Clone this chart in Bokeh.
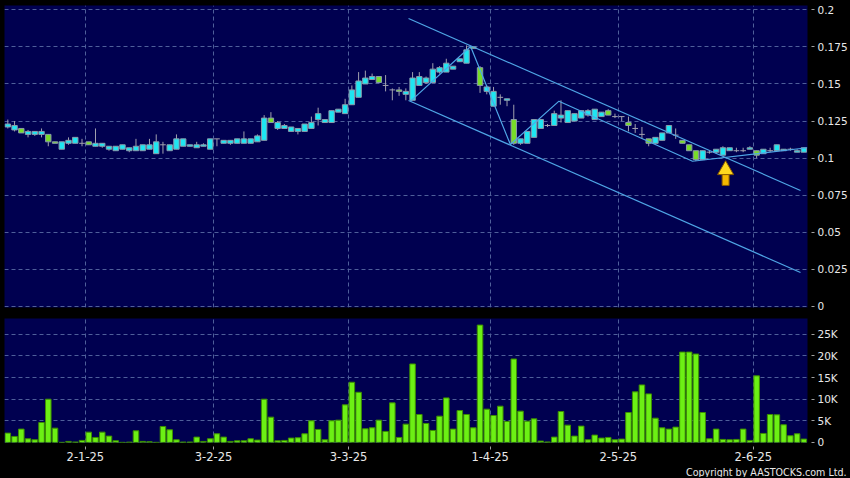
from bokeh.plotting import figure
from bokeh.layouts import column
from bokeh.models import Range1d, FixedTicker, NumeralTickFormatter, Title, GlobalInlineStyleSheet
from bokeh.embed import file_html
from bokeh.resources import INLINE

# ---------------- data ----------------
opens = [0.121, 0.119, 0.120, 0.116, 0.116, 0.116, 0.116, 0.111, 0.106, 0.110,
         0.110, 0.110, 0.111, 0.108, 0.108, 0.106, 0.105, 0.106, 0.105, 0.105,
         0.105, 0.106, 0.103, 0.109, 0.105, 0.106, 0.108, 0.108, 0.107, 0.108,
         0.106, 0.113, 0.110, 0.110, 0.110, 0.110, 0.110, 0.111, 0.112, 0.127,
         0.120, 0.120, 0.118, 0.118, 0.118, 0.120, 0.126, 0.124, 0.124, 0.131,
         0.130, 0.136, 0.141, 0.150, 0.153, 0.155, 0.149, 0.146, 0.146, 0.143,
         0.139, 0.149, 0.151, 0.151, 0.158, 0.158, 0.160, 0.165, 0.164, 0.175,
         0.161, 0.145, 0.135, 0.141, 0.139, 0.126, 0.110, 0.110, 0.114, 0.120,
         0.122, 0.122, 0.127, 0.124, 0.125, 0.127, 0.129, 0.126, 0.128, 0.132,
         0.128, 0.128, 0.124, 0.120, 0.116, 0.113, 0.110, 0.112, 0.117, 0.1155,
         0.112, 0.109, 0.105, 0.099, 0.104, 0.104, 0.102, 0.105, 0.105, 0.105,
         0.106, 0.105, 0.103, 0.105, 0.105, 0.105, 0.106, 0.104, 0.104]
highs = [0.126, 0.125, 0.120, 0.119, 0.118, 0.120, 0.116, 0.111, 0.111, 0.114,
         0.114, 0.113, 0.111, 0.120, 0.110, 0.108, 0.108, 0.109, 0.107, 0.113,
         0.109, 0.113, 0.116, 0.111, 0.109, 0.116, 0.113, 0.109, 0.111, 0.110,
         0.113, 0.113, 0.112, 0.112, 0.113, 0.118, 0.113, 0.116, 0.129, 0.131,
         0.125, 0.123, 0.121, 0.120, 0.123, 0.128, 0.134, 0.126, 0.132, 0.133,
         0.140, 0.149, 0.158, 0.159, 0.157, 0.155, 0.156, 0.147, 0.148, 0.147,
         0.158, 0.158, 0.155, 0.164, 0.162, 0.167, 0.162, 0.167, 0.176, 0.175,
         0.162, 0.149, 0.148, 0.143, 0.140, 0.136, 0.113, 0.118, 0.126, 0.126,
         0.123, 0.132, 0.139, 0.132, 0.130, 0.132, 0.133, 0.133, 0.131, 0.133,
         0.130, 0.128, 0.128, 0.123, 0.121, 0.113, 0.114, 0.117, 0.122, 0.120,
         0.112, 0.109, 0.105, 0.105, 0.105, 0.106, 0.108, 0.107, 0.107, 0.107,
         0.108, 0.105, 0.106, 0.107, 0.109, 0.106, 0.107, 0.106, 0.107]
lows = [0.120, 0.118, 0.117, 0.114, 0.115, 0.114, 0.108, 0.110, 0.106, 0.109,
        0.110, 0.108, 0.109, 0.108, 0.107, 0.105, 0.105, 0.106, 0.104, 0.105,
        0.105, 0.106, 0.103, 0.103, 0.105, 0.106, 0.108, 0.108, 0.107, 0.108,
        0.106, 0.108, 0.110, 0.109, 0.110, 0.110, 0.110, 0.111, 0.112, 0.124,
        0.119, 0.120, 0.118, 0.116, 0.118, 0.120, 0.122, 0.124, 0.124, 0.131,
        0.130, 0.136, 0.141, 0.150, 0.153, 0.151, 0.145, 0.139, 0.142, 0.139,
        0.139, 0.149, 0.150, 0.151, 0.157, 0.158, 0.160, 0.165, 0.164, 0.174,
        0.144, 0.143, 0.135, 0.136, 0.135, 0.109, 0.109, 0.110, 0.114, 0.120,
        0.121, 0.122, 0.124, 0.124, 0.125, 0.127, 0.128, 0.126, 0.128, 0.129,
        0.127, 0.125, 0.118, 0.117, 0.113, 0.108, 0.110, 0.112, 0.117, 0.113,
        0.110, 0.105, 0.098, 0.099, 0.103, 0.103, 0.102, 0.105, 0.104, 0.104,
        0.106, 0.100, 0.103, 0.104, 0.105, 0.105, 0.105, 0.104, 0.104]
closes = [0.123, 0.122, 0.117, 0.118, 0.118, 0.118, 0.111, 0.110, 0.111, 0.112,
          0.114, 0.110, 0.109, 0.110, 0.110, 0.108, 0.108, 0.109, 0.107, 0.108,
          0.109, 0.109, 0.111, 0.109, 0.109, 0.113, 0.113, 0.109, 0.109, 0.109,
          0.113, 0.113, 0.112, 0.112, 0.113, 0.113, 0.113, 0.115, 0.127, 0.124,
          0.124, 0.122, 0.121, 0.120, 0.123, 0.124, 0.130, 0.126, 0.132, 0.133,
          0.136, 0.146, 0.152, 0.154, 0.155, 0.151, 0.149, 0.146, 0.145, 0.145,
          0.154, 0.155, 0.154, 0.160, 0.161, 0.164, 0.162, 0.167, 0.173, 0.174,
          0.149, 0.148, 0.145, 0.141, 0.140, 0.110, 0.113, 0.118, 0.126, 0.126,
          0.122, 0.130, 0.129, 0.132, 0.130, 0.132, 0.132, 0.133, 0.131, 0.129,
          0.128, 0.128, 0.122, 0.120, 0.116, 0.110, 0.114, 0.117, 0.122, 0.1155,
          0.110, 0.105, 0.099, 0.105, 0.104, 0.106, 0.107, 0.107, 0.105, 0.105,
          0.107, 0.102, 0.106, 0.105, 0.109, 0.106, 0.106, 0.105, 0.107]
volumes = [2150, 1380, 3080, 850, 615, 4610, 10000, 3300, 0, 230,
           80, 460, 2380, 1150, 2380, 1460, 385, 0, 50, 2690,
           230, 150, 0, 3690, 2920, 615, 77, 77, 1230, 230,
           850, 2000, 1230, 230, 385, 385, 850, 540, 10000, 5850,
           385, 460, 1000, 1080, 2000, 5000, 3000, 615, 5000, 5150,
           8690, 13920, 11600, 3150, 3380, 5150, 2540, 9150, 1150, 4230,
           18150, 6460, 4380, 2770, 6075, 10300, 3080, 7380, 6460, 3380,
           27150, 7690, 6230, 8380, 4850, 19300, 7230, 4920, 5460, 310,
           100, 1230, 7150, 4000, 1460, 3770, 615, 1690, 1000, 1150,
           615, 770, 6920, 11700, 13300, 11230, 5610, 3380, 3080, 3540,
           20900, 20900, 20450, 6920, 850, 3080, 690, 615, 690, 3080,
           460, 15400, 2080, 6460, 6380, 4080, 1540, 2000, 770]

month_ticks = [11.5, 30.5, 50.5, 71.5, 90.5, 110.5]
month_labels = ["2-1-25", "3-2-25", "3-3-25", "1-4-25", "2-5-25", "2-6-25"]
price_ticks = [0, 0.025, 0.05, 0.075, 0.1, 0.125, 0.15, 0.175, 0.2]
volume_ticks = [0, 5000, 10000, 15000, 20000, 25000]
volume_tick_labels = ["0", "5K", "10K", "15K", "20K", "25K"]

# drawn trend lines (bar index, price)
channel_upper_x = [59.4, 117.5]
channel_upper_y = [0.1941, 0.0782]
channel_lower_x = [59.4, 117.5]
channel_lower_y = [0.1389, 0.0229]
zigzag_x = [59.7, 68.6, 74.5, 81.7, 101.5, 118.5]
zigzag_y = [0.1384, 0.1753, 0.1092, 0.1384, 0.0979, 0.1070]
arrow_x = [106.4]
arrow_head_y = [0.0920]
arrow_shaft_y = [0.0853]

# ---------------- styling ----------------
BG = "#000050"
GRID = "#4F5F9A"
CYAN = "#1EE6F2"
GREEN = "#78DC28"
OUTLINE = "#8A9AAA"
WICK = "#A0A0AE"
LINE = "#4FA6E6"
TXT = "#E8E8E8"
FONT = "DejaVu Sans"

N = len(opens)
idx = list(range(N))
up = [i for i in idx if closes[i] > opens[i]]
dn = [i for i in idx if closes[i] < opens[i]]
dj = [i for i in idx if closes[i] == opens[i]]

x_range = Range1d(-0.49, 118.54)

p = figure(width=850, height=312, output_backend="svg", toolbar_location=None,
           x_range=x_range, y_range=Range1d(-0.0007, 0.2029),
           x_axis_location=None, y_axis_location="right",
           min_border_left=4, min_border_top=5, min_border_bottom=5, min_border_right=43,
           background_fill_color=BG, border_fill_color="#000000", outline_line_color=None)

for g in (p.xgrid, p.ygrid):
    g.grid_line_color = GRID
    g.grid_line_dash = "4 3"
    g.grid_line_width = 1
p.xgrid.ticker = FixedTicker(ticks=month_ticks)

ax = p.yaxis[0]
ax.ticker = FixedTicker(ticks=price_ticks)
ax.formatter = NumeralTickFormatter(format="0.[000]")

p.segment(x0=idx, y0=lows, x1=idx, y1=highs, line_color=WICK, line_width=1)
p.vbar(x=up, width=0.8, bottom=[opens[i] for i in up], top=[closes[i] for i in up],
       fill_color=CYAN, line_color=OUTLINE, line_width=1)
p.vbar(x=dn, width=0.8, bottom=[closes[i] for i in dn], top=[opens[i] for i in dn],
       fill_color=GREEN, line_color=OUTLINE, line_width=1)
p.segment(x0=[i - 0.42 for i in dj], x1=[i + 0.42 for i in dj],
          y0=[opens[i] for i in dj], y1=[opens[i] for i in dj], line_color=WICK, line_width=1)

p.line(channel_upper_x, channel_upper_y, line_color=LINE, line_width=1.2)
p.line(channel_lower_x, channel_lower_y, line_color=LINE, line_width=1.2)
p.line(zigzag_x, zigzag_y, line_color=LINE, line_width=1.2)

p.rect(x=arrow_x, y=arrow_shaft_y, width=7, height=11, width_units="screen", height_units="screen",
       fill_color="#F5B800", line_color="#8A5A00", line_width=1)
p.scatter(x=arrow_x, y=arrow_head_y, marker="triangle", size=16,
          fill_color="#FFD81E", line_color="#8A5A00", line_width=1)

v = figure(width=850, height=165, output_backend="svg", toolbar_location=None,
           x_range=x_range, y_range=Range1d(-20, 28670), y_axis_location="right",
           min_border_left=4, min_border_top=6, min_border_bottom=0, min_border_right=43,
           background_fill_color=BG, border_fill_color="#000000", outline_line_color=None)
for g in (v.xgrid, v.ygrid):
    g.grid_line_color = GRID
    g.grid_line_dash = "4 3"
    g.grid_line_width = 1

v.vbar(x=idx, width=0.82, bottom=0, top=volumes, fill_color="#6CF014", line_color="#3D8F00", line_width=1)

vax = v.yaxis[0]
vax.ticker = FixedTicker(ticks=volume_ticks)
vax.major_label_overrides = dict(zip(volume_ticks, volume_tick_labels))
xax = v.xaxis[0]
xax.ticker = FixedTicker(ticks=month_ticks)
xax.major_label_overrides = dict(zip(month_ticks, month_labels))

for a in (ax, vax, xax):
    a.axis_line_color = None
    a.major_tick_line_color = "#A0A0A0"
    a.minor_tick_line_color = None
    a.major_tick_in = -4
    a.major_tick_out = 7
    a.major_label_text_color = TXT
    a.major_label_text_font = FONT
    a.major_label_standoff = 3
for a in (ax, vax):
    a.major_label_text_font_size = "10.5px"
xax.major_label_text_font_size = "11.5px"
xax.major_label_standoff = 2

v.add_layout(Title(text="Copyright by AASTOCKS.com Ltd.", align="right", offset=-39, standoff=0,
                   text_font_size="10.6px", text_font_style="normal", text_color=TXT,
                   text_font="DejaVu Sans Condensed"), "below")

page_css = GlobalInlineStyleSheet(css="html, body { background-color: #000000; }")
layout = column(p, v, spacing=0, stylesheets=[page_css])

open("out.html", "w").write(file_html(layout, INLINE))
